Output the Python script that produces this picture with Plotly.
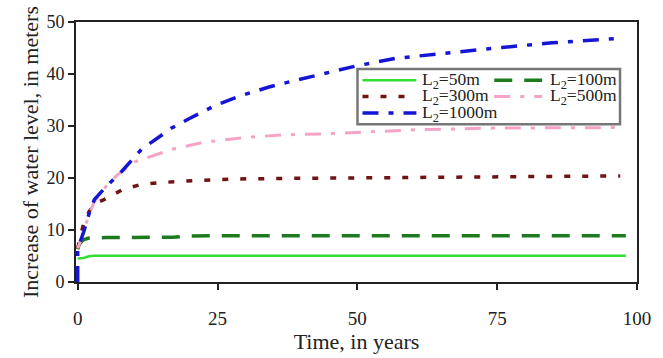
import plotly.graph_objects as go

# ---- data ----
t_50 = [0, 1, 2, 3, 20, 50, 98]
v_50 = [4.5, 4.6, 4.95, 5.05, 5.05, 5.05, 5.05]

t_100 = [0, 0.3, 1, 2, 5, 17, 20, 25, 50, 98]
v_100 = [6.3, 7.3, 8.1, 8.45, 8.55, 8.6, 8.85, 8.9, 8.9, 8.9]

t_300 = [0, 0.3, 1, 2, 3, 4.8, 7.9, 11.4, 14.5, 20.9, 27.5, 35, 50, 60, 75, 97]
v_300 = [6.5, 8, 11, 13.5, 15, 15.9, 17.7, 18.8, 19.1, 19.5, 19.8, 19.9, 20.0, 20.2, 20.3, 20.4]

t_500 = [0, 0.2, 1.1, 2.0, 3.0, 5, 7, 10.2, 16.8, 22.7, 29.9, 37, 44.2, 51.3, 61, 74.6, 87, 97]
v_500 = [6.5, 7.0, 9.7, 13.0, 15.5, 18.3, 20.5, 23.1, 25.5, 26.9, 27.8, 28.3, 28.5, 28.8, 29.3, 29.6, 29.6, 29.7]

t_1000 = [0, 0, 0.2, 1.1, 2.0, 3.0, 5.5, 7.9, 11.4, 13.8, 16.8, 19.9, 24.5, 28.8, 34.2,
          38.3, 43.6, 49.6, 56.7, 67, 75.8, 84.8, 96]
v_1000 = [0, 6.5, 7.0, 9.7, 13.0, 15.9, 18.8, 21.3, 25.5, 27.3, 29.6, 31.4, 33.9, 35.7, 37.5,
          38.6, 39.9, 41.5, 43.0, 44.2, 45.1, 46.0, 46.8]

x_ticks = [0, 25, 50, 75, 100]
y_ticks = [0, 10, 20, 30, 40, 50]

series_names = ["L<sub>2</sub>=50m", "L<sub>2</sub>=100m", "L<sub>2</sub>=300m",
                "L<sub>2</sub>=500m", "L<sub>2</sub>=1000m"]

FONT = "Liberation Serif, Times New Roman, serif"
W, H = 663, 358
ML, MR, MT, MB = 76, 25, 14, 67
PW, PH = W - ML - MR, H - MT - MB

styles = [
    dict(color="#33dd33", width=2.5),
    dict(color="#1e7a1e", width=3.5, dash="18px,12px"),
    dict(color="#6e1414", width=3.5, dash="6px,12px"),
    dict(color="#f4a3c6", width=3, dash="16px,10px,4px,10px"),
    dict(color="#1515d5", width=3.5, dash="16px,10px,5px,10px"),
]
xs = [t_50, t_100, t_300, t_500, t_1000]
ys = [v_50, v_100, v_300, v_500, v_1000]

fig = go.Figure()
for x, y, nm, st in zip(xs, ys, series_names, styles):
    fig.add_trace(go.Scatter(x=x, y=y, mode="lines", name=nm, line=st, showlegend=False))


def px_x(p):
    return (p - ML) / PW


def px_y(p):
    return (H - MB - p) / PH


# legend layout (pixel positions of the legend box in the page)
box = (358, 64, 621, 123)
rows = [76, 93.5, 111]
cols = [(363, 417, 421), (495, 543, 549)]
slots = [(0, 0), (1, 0), (0, 1), (1, 1), (0, 2)]  # (col, row) of each series

shapes = [dict(type="rect", xref="paper", yref="paper",
               x0=px_x(box[0]), x1=px_x(box[2]), y0=px_y(box[3]), y1=px_y(box[1]),
               line=dict(color="#777", width=2.5), fillcolor="white", layer="above")]
annotations = []
for (c, r), nm, st in zip(slots, series_names, styles):
    sx0, sx1, tx = cols[c]
    yy = px_y(rows[r])
    shapes.append(dict(type="line", xref="paper", yref="paper", x0=px_x(sx0), x1=px_x(sx1),
                       y0=yy, y1=yy, line=st, layer="above"))
    annotations.append(dict(xref="paper", yref="paper", x=px_x(tx), y=yy, text=nm,
                            showarrow=False, xanchor="left", yanchor="middle",
                            font=dict(family=FONT, size=17.5, color="#222")))

fig.update_layout(
    width=W, height=H,
    margin=dict(l=ML, r=MR, t=MT, b=MB),
    paper_bgcolor="white", plot_bgcolor="white",
    font=dict(family=FONT, size=18, color="#222"),
    showlegend=False,
    xaxis=dict(range=[-0.3, 100], tickvals=x_ticks, showgrid=False, zeroline=False,
               showline=True, linecolor="#222", linewidth=2, mirror=True,
               ticks="outside", ticklen=6, tickwidth=2, tickcolor="#222",
               tickfont=dict(size=19), ticklabelstandoff=12,
               title=dict(text="Time, in years", font=dict(size=22), standoff=2)),
    yaxis=dict(range=[0, 50], tickvals=y_ticks, showgrid=False, zeroline=False,
               showline=True, linecolor="#222", linewidth=2, mirror=True,
               ticks="outside", ticklen=6, tickwidth=2, tickcolor="#222",
               tickfont=dict(size=18),
               title=dict(text="Increase of water level, in meters", font=dict(size=22), standoff=2)),
    shapes=shapes,
    annotations=annotations,
)

fig.write_html("out.html")
